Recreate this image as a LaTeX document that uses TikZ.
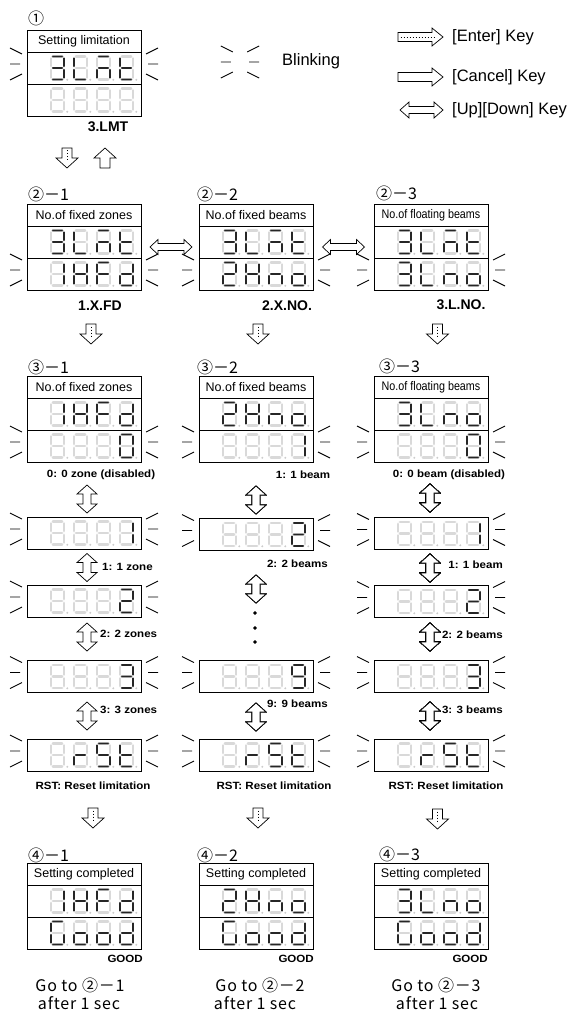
\documentclass[tikz,border=0pt]{standalone}
\usepackage{fontspec}
\setmainfont{Liberation Sans}
\newfontfamily\cjkfont{Noto Sans CJK JP}
\newfontfamily\widefont{Liberation Sans}[FakeStretch=1.1]
\newfontfamily\condfont{Liberation Sans}[FakeStretch=0.86]
\usepackage{tikz}
\usetikzlibrary{positioning}

% segment flags: a b c d e f g
\newcommand\sgOff{0000000}
\newcommand\sgZero{1111110}
\newcommand\sgOne{0110000}
\newcommand\sgTwo{1101101}
\newcommand\sgThree{1111001}
\newcommand\sgNine{1111011}
\newcommand\sgL{0001110}
\newcommand\sgM{1010101}
\newcommand\sgT{0001111}
\newcommand\sgN{0010101}
\newcommand\sgO{0011101}
\newcommand\sgX{0110111}
\newcommand\sgF{1000111}
\newcommand\sgD{0111101}
\newcommand\sgR{0000101}
\newcommand\sgS{1011011}
\newcommand\sgG{1011110}

\def\setsegs#1#2#3#4#5#6#7\relax{\def\sega{#1}\def\segb{#2}\def\segc{#3}%
  \def\segd{#4}\def\sege{#5}\def\segf{#6}\def\segg{#7}}

\newcommand{\segdigit}[3]{%
  \expandafter\setsegs#3\relax
  \begin{scope}[shift={(#1,#2)}]
    \foreach \xa/\ya/\xb/\yb/\on in {-4.6/-11.5/4.6/-11.5/\sega, 6.5/-9.6/6.5/-1.9/\segb,
        6.5/1.9/6.5/9.6/\segc, -4.6/11.5/4.6/11.5/\segd, -6.5/1.9/-6.5/9.6/\sege,
        -6.5/-9.6/-6.5/-1.9/\segf, -4.6/0/4.6/0/\segg}
      {\ifnum\on=1 \draw[segon] (\xa,\ya) -- (\xb,\yb);\else\draw[segoff] (\xa,\ya) -- (\xb,\yb);\fi}
    \fill[segdot] (9.8,11.8) circle (1.1pt);
  \end{scope}}

\newcommand{\segrow}[5]{%
  \begin{scope}[shift={(#1.west)}]
    \segdigit{30.5}{0}{#2}\segdigit{53.5}{0}{#3}\segdigit{76.5}{0}{#4}\segdigit{99.5}{0}{#5}
  \end{scope}}

\newcommand{\blink}[1]{%
  \foreach \side/\flip in {west/1, east/-1}
    \draw[blinkline, shift={(#1.\side)}, xscale=\flip]
      (-5,-14) -- (-17,-20) (-7,-4) -- (-17,-4) (-5,6) -- (-17,12);}

% centre, angle, half length, head half width, shaft half width, head length
\newcommand{\sglkey}[6]{%
  \draw[keyline, shift={#1}, rotate=#2] (-#3,-#5) -- ({#3-#6},-#5) -- ({#3-#6},-#4)
    -- (#3,0) -- ({#3-#6},#4) -- ({#3-#6},#5) -- (-#3,#5) -- cycle;}
\newcommand{\enterkey}[6]{%
  \sglkey{#1}{#2}{#3}{#4}{#5}{#6}
  \draw[keydots, shift={#1}, rotate=#2] ({-#3+2.5},0) -- ({#3-#6+4},0);}
\newcommand{\dblkey}[6]{%
  \draw[keyline, shift={#1}, rotate=#2] (-#3,0) -- ({-#3+#6},-#4) -- ({-#3+#6},-#5)
    -- ({#3-#6},-#5) -- ({#3-#6},-#4) -- (#3,0) -- ({#3-#6},#4) -- ({#3-#6},#5)
    -- ({-#3+#6},#5) -- ({-#3+#6},#4) -- cycle;}

\begin{document}
\begin{tikzpicture}[
    x=1pt, y=-1pt,
    panelhead/.style={draw, line width=0.9pt, minimum width=114, minimum height=22,
      inner sep=0, outer sep=0, font=\fontsize{12.5}{14}\selectfont},
    dsp/.style={draw, line width=0.9pt, minimum width=114, minimum height=32,
      inner sep=0, outer sep=0},
    paneltag/.style={font=\cjkfont\fontsize{16}{18}\selectfont, anchor=west, inner sep=0},
    codelabel/.style={font=\bfseries\fontsize{14}{16}\selectfont, inner sep=0},
    valnote/.style={font=\widefont\bfseries\fontsize{10.5}{12}\selectfont, inner sep=0},
    legendtxt/.style={font=\fontsize{16.5}{18}\selectfont, anchor=west, inner sep=0},
    gotolabel/.style={font=\cjkfont\addfontfeature{LetterSpace=5}\fontsize{16}{18}\selectfont, inner sep=0},
    segon/.style={draw=gray!70, line width=0.6pt, double=black!85, double distance=1.6pt, line cap=round},
    segoff/.style={draw=gray!30, line width=2.5pt, line cap=round},
    segdot/.style={fill=gray!40},
    blinkline/.style={line width=0.9pt},
    keyline/.style={draw, line width=0.7pt, fill=white},
    keydots/.style={line width=0.9pt, dash pattern=on 0.9pt off 2.1pt}
]
    \path[use as bounding box, fill=white] (0,0) rectangle (576,1011);

    % legend
    \node[minimum width=4, minimum height=2, inner sep=0] (blk) at (240,66) {};
    \blink{blk}
    \node[legendtxt] (lblink) at (282,61) {Blinking};
    \enterkey{(420.5,37)}{0}{22.5}{9}{4.5}{11}
    \node[legendtxt] (lenter) at (452,37) {[Enter] Key};
    \sglkey{(420.5,77)}{0}{22.5}{9}{4.5}{11}
    \node[legendtxt] (lcancel) at (452,77) {[Cancel] Key};
    \dblkey{(421.5,110)}{0}{21.5}{8}{3.5}{9}
    \node[legendtxt] (lupdown) at (452,110) {[Up][Down] Key};

    % step 1
    \node[paneltag] (t1) at (28,18) {①};
    \node[panelhead] (h1) at (84,41) {Setting limitation};
    \node[dsp, below=0pt of h1] (u1) {};
    \node[dsp, below=0pt of u1] (v1) {};
    \segrow{u1}{\sgThree}{\sgL}{\sgM}{\sgT}
    \segrow{v1}{\sgOff}{\sgOff}{\sgOff}{\sgOff}
    \blink{u1}
    \node[codelabel] (c1) at (108,127) {3.LMT};
    \enterkey{(67,158)}{-90}{10}{11}{5}{10}
    \sglkey{(105,158)}{90}{10}{11}{5}{10}

    % steps 2 and 3
    \foreach \r/\y in {2/215, 3/387} {
        \node[panelhead] (h\r1) at (84,\y) {No.of fixed zones};
        \node[panelhead] (h\r2) at (256,\y) {No.of fixed beams};
        \node[panelhead, font=\condfont\fontsize{12.5}{14}\selectfont] (h\r3) at (431,\y) {No.of floating beams};
        \foreach \c in {1,2,3} {
            \node[dsp, below=0pt of h\r\c] (u\r\c) {};
            \node[dsp, below=0pt of u\r\c] (v\r\c) {};
            \blink{v\r\c}
        }
    }
    \node[paneltag] (t21) at (28,194) {②－1};
    \node[paneltag] (t22) at (197,194) {②－2};
    \node[paneltag] (t23) at (376,193) {②－3};
    \segrow{u21}{\sgThree}{\sgL}{\sgM}{\sgT}
    \segrow{v21}{\sgOne}{\sgX}{\sgF}{\sgD}
    \segrow{u22}{\sgThree}{\sgL}{\sgM}{\sgT}
    \segrow{v22}{\sgTwo}{\sgX}{\sgN}{\sgO}
    \segrow{u23}{\sgThree}{\sgL}{\sgM}{\sgT}
    \segrow{v23}{\sgThree}{\sgL}{\sgN}{\sgO}
    \dblkey{(171,247)}{0}{21}{7.5}{3.5}{8}
    \dblkey{(343.5,247)}{0}{21}{7.5}{3.5}{8}
    \node[codelabel] (c21) at (100,306) {1.X.FD};
    \node[codelabel] (c22) at (287,306) {2.X.NO.};
    \node[codelabel] (c23) at (461,305) {3.L.NO.};
    \enterkey{(91,334)}{-90}{10}{11}{5}{10}
    \enterkey{(258,334)}{-90}{10}{11}{5}{10}
    \enterkey{(437.5,334)}{-90}{10}{11}{5}{10}

    \node[paneltag] (t31) at (28,367) {③－1};
    \node[paneltag] (t32) at (197,367) {③－2};
    \node[paneltag] (t33) at (379,366) {③－3};
    \segrow{u31}{\sgOne}{\sgX}{\sgF}{\sgD}
    \segrow{v31}{\sgOff}{\sgOff}{\sgOff}{\sgZero}
    \segrow{u32}{\sgTwo}{\sgX}{\sgN}{\sgO}
    \segrow{v32}{\sgOff}{\sgOff}{\sgOff}{\sgOne}
    \segrow{u33}{\sgThree}{\sgL}{\sgN}{\sgO}
    \segrow{v33}{\sgOff}{\sgOff}{\sgOff}{\sgZero}
    \node[valnote] (n31) at (101,475) {0: 0 zone (disabled)};
    \node[valnote] (n32) at (303,475) {1: 1 beam};
    \node[valnote] (n33) at (449,475) {0: 0 beam (disabled)};

    % value list
    \foreach \nm/\x/\y in {s11/84/533, s12/84/601, s13/84/676.5, s14/84/755,
                           s21/256/534.5, s22/256/676.5, s23/256/755,
                           s31/431/533.5, s32/431/601.5, s33/431/676.5, s34/431/755} {
        \node[dsp] (\nm) at (\x,\y) {};
        \blink{\nm}
    }
    \segrow{s11}{\sgOff}{\sgOff}{\sgOff}{\sgOne}
    \segrow{s12}{\sgOff}{\sgOff}{\sgOff}{\sgTwo}
    \segrow{s13}{\sgOff}{\sgOff}{\sgOff}{\sgThree}
    \segrow{s14}{\sgOff}{\sgR}{\sgS}{\sgT}
    \segrow{s21}{\sgOff}{\sgOff}{\sgOff}{\sgTwo}
    \segrow{s22}{\sgOff}{\sgOff}{\sgOff}{\sgNine}
    \segrow{s23}{\sgOff}{\sgR}{\sgS}{\sgT}
    \segrow{s31}{\sgOff}{\sgOff}{\sgOff}{\sgOne}
    \segrow{s32}{\sgOff}{\sgOff}{\sgOff}{\sgTwo}
    \segrow{s33}{\sgOff}{\sgOff}{\sgOff}{\sgThree}
    \segrow{s34}{\sgOff}{\sgR}{\sgS}{\sgT}

    \foreach \y in {499, 567.5, 637, 716} \dblkey{(87,\y)}{90}{14}{10}{4}{9}
    \foreach \y in {500, 589, 717} \dblkey{(256,\y)}{90}{14}{10}{4}{9}
    \foreach \y in {498, 568, 637, 716} \dblkey{(430,\y)}{90}{14}{10}{4}{9}
    \foreach \y in {613, 628, 642} \fill (255,\y) circle (1.2pt);

    \node[valnote, anchor=west] (n11) at (102,567) {1: 1 zone};
    \node[valnote, anchor=west] (n12) at (100,634) {2: 2 zones};
    \node[valnote, anchor=west] (n13) at (100,710) {3: 3 zones};
    \node[valnote] (n14) at (93,786) {RST: Reset limitation};
    \node[valnote, anchor=east] (n21) at (328,564) {2: 2 beams};
    \node[valnote, anchor=east] (n22) at (328,704) {9: 9 beams};
    \node[valnote] (n23) at (274,786) {RST: Reset limitation};
    \node[valnote, anchor=east] (n41) at (503,565) {1: 1 beam};
    \node[valnote, anchor=east] (n42) at (503,635) {2: 2 beams};
    \node[valnote, anchor=east] (n43) at (503,710) {3: 3 beams};
    \node[valnote] (n44) at (446,786) {RST: Reset limitation};
    \enterkey{(93,818)}{-90}{10}{11}{5}{10}
    \enterkey{(258,818)}{-90}{10}{11}{5}{10}
    \enterkey{(437.5,819)}{-90}{10}{11}{5}{10}

    % step 4
    \foreach \c/\x in {1/84, 2/256, 3/431} {
        \node[panelhead] (h4\c) at (\x,874) {Setting completed};
        \node[dsp, below=0pt of h4\c] (u4\c) {};
        \node[dsp, below=0pt of u4\c] (v4\c) {};
        \segrow{v4\c}{\sgG}{\sgO}{\sgO}{\sgD}
    }
    \node[paneltag] (t41) at (28,855) {④－1};
    \node[paneltag] (t42) at (197,855) {④－2};
    \node[paneltag] (t43) at (379,854) {④－3};
    \segrow{u41}{\sgOne}{\sgX}{\sgF}{\sgD}
    \segrow{u42}{\sgTwo}{\sgX}{\sgN}{\sgO}
    \segrow{u43}{\sgThree}{\sgL}{\sgN}{\sgO}
    \node[valnote, anchor=east] (g1) at (143,959) {GOOD};
    \node[valnote, anchor=east] (g2) at (314,959) {GOOD};
    \node[valnote, anchor=east] (g3) at (488,959) {GOOD};
    \node[gotolabel] (go1) at (80,985) {Go to ②－1};
    \node[gotolabel] (af1) at (79,1003) {after 1 sec};
    \node[gotolabel] (go2) at (260,985) {Go to ②－2};
    \node[gotolabel] (af2) at (255,1003) {after 1 sec};
    \node[gotolabel] (go3) at (436,985) {Go to ②－3};
    \node[gotolabel] (af3) at (437,1003) {after 1 sec};
\end{tikzpicture}
\end{document}
